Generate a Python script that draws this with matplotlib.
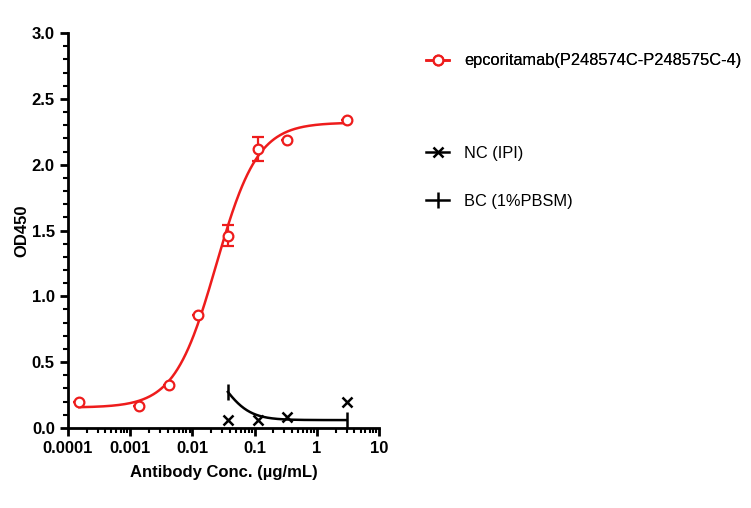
import numpy as np
import matplotlib.pyplot as plt
from matplotlib.lines import Line2D

# epcoritamab data (3-fold dilutions)
conc = [1.52e-4, 1.37e-3, 4.12e-3, 0.0123, 0.037, 0.111, 0.333, 3.0]
od = [0.20, 0.165, 0.33, 0.86, 1.46, 2.12, 2.19, 2.34]
od_err = [0.0, 0.0, 0.0, 0.0, 0.08, 0.09, 0.0, 0.0]

# 4PL fit parameters
fit_bottom, fit_top, fit_ec50, fit_hill = 0.155, 2.32, 0.024, 1.3

# NC (IPI)
nc_conc = [0.037, 0.111, 0.333, 3.0]
nc_od = [0.06, 0.06, 0.08, 0.20]

# BC (1%PBSM) fit curve
bc_bottom, bc_top, bc_ec50, bc_hill = 0.06, 0.6, 0.03, 2.0
bc_range = [0.037, 3.0]

red = '#ee1c1c'
plt.rcParams['font.family'] = ['Liberation Sans', 'DejaVu Sans']

fig = plt.figure(figsize=(7.51, 5.08), dpi=100)
ax = fig.add_axes([0.0905, 0.1575, 0.4145, 0.7775])

xs = np.logspace(np.log10(conc[0]), np.log10(conc[-1]), 300)
ys = fit_bottom + (fit_top - fit_bottom) / (1 + (fit_ec50 / xs) ** fit_hill)
ax.plot(xs, ys, color=red, lw=1.8, zorder=2)
ax.errorbar(conc, od, yerr=od_err, fmt='o', mfc='white', mec=red, ecolor=red,
            ms=7, mew=1.6, elinewidth=1.6, capsize=4, capthick=1.6, zorder=3)

bx = np.logspace(np.log10(bc_range[0]), np.log10(bc_range[1]), 200)
by = bc_bottom + (bc_top - bc_bottom) / (1 + (bx / bc_ec50) ** bc_hill)
ax.plot(bx, by, color='black', lw=1.8, marker='|', ms=11, mew=1.8, markevery=[0, -1])
ax.plot(nc_conc, nc_od, 'x', color='black', ms=7, mew=1.8, ls='none')

ax.set_xscale('log')
ax.set_xlim(1e-4, 10)
ax.set_ylim(0, 3.0)
ax.set_xticks([1e-4, 1e-3, 1e-2, 1e-1, 1, 10])
ax.set_xticklabels(['0.0001', '0.001', '0.01', '0.1', '1', '10'])
ax.set_yticks(np.arange(0, 3.01, 0.5))
ax.set_yticklabels(['%.1f' % v for v in np.arange(0, 3.01, 0.5)])
ax.set_yticks(np.arange(0, 3.01, 0.1), minor=True)

for s in ['top', 'right']:
    ax.spines[s].set_visible(False)
for s in ['left', 'bottom']:
    ax.spines[s].set_linewidth(2)
ax.tick_params(which='major', direction='out', length=6, width=2, labelsize=12)
ax.tick_params(which='minor', direction='out', length=3.5, width=1.5)
for lab in ax.get_xticklabels() + ax.get_yticklabels():
    lab.set_fontweight('bold')

ax.set_xlabel('Antibody Conc. (µg/mL)', fontsize=12, fontweight='bold', labelpad=6)
ax.set_ylabel('OD450', fontsize=12, fontweight='bold')
ax.yaxis.set_label_coords(-0.125, 0.5)

h1 = [Line2D([], [], color=red, marker='o', mfc='white', mec=red, ms=7, mew=1.6, lw=1.8)]
leg1 = fig.legend(h1, ['epcoritamab(P248574C-P248575C-4)'], loc='upper left',
                  bbox_to_anchor=(0.548, 0.924), frameon=False, fontsize=11.8,
                  handlelength=1.4, handletextpad=0.9)
h2 = [Line2D([], [], color='black', marker='x', ms=7, mew=1.8, lw=1.8),
      Line2D([], [], color='black', marker='|', ms=11, mew=1.8, lw=1.8)]
fig.legend(h2, ['NC (IPI)', 'BC (1%PBSM)'], loc='upper left',
           bbox_to_anchor=(0.548, 0.742), frameon=False, fontsize=11.8,
           handlelength=1.4, handletextpad=0.9, labelspacing=2.0)
fig.add_artist(leg1)

fig.savefig('out.png', dpi=100)
